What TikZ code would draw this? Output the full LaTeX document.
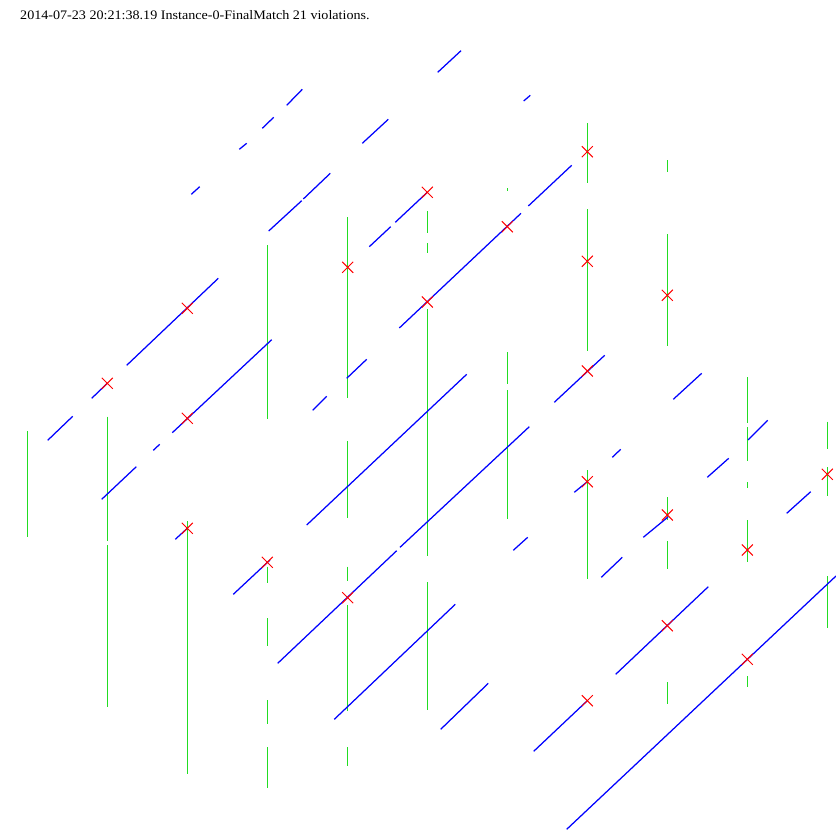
\documentclass[tikz,border=0pt]{standalone}
\usepackage{fontspec}
\setmainfont{Liberation Serif}
\definecolor{vgreen}{RGB}{34,221,34}
\tikzset{
  gline/.style={draw=vgreen,line width=1pt},
  bline/.style={draw=blue,line width=1.25pt},
  xmark/.style={draw=red,line width=1pt},
}
\begin{document}
\begin{tikzpicture}[x=1pt,y=-1pt]
\useasboundingbox (0,0) rectangle (836,830);
\fill[white] (0,0) rectangle (836,830);
\node[anchor=base west,inner sep=0pt,font=\fontsize{13}{15}\selectfont,xscale=1.085,transform shape] (title) at (20,19.3) {2014-07-23 20:21:38.19 Instance-0-FinalMatch 21 violations.};
% green verticals
\foreach \x/\a/\b in {
 27.3/431/536.7,
 107.3/416.7/540.7, 107.3/545/706.7,
 187.3/521/774.3,
 267.3/245/418.7, 267.3/566.7/583.3, 267.3/618.3/646, 267.3/700/723.7, 267.3/747/787.7,
 347.7/217/397.7, 347.7/441/517.7, 347.7/566.7/580.7, 347.7/605/710.7, 347.7/747/766,
 427.3/211/233.3, 427.3/243.3/252.7, 427.3/309.3/555.7, 427.3/582/709.7,
 507.3/188/190.7, 507.3/352.3/383.7, 507.3/390/518.7,
 587.3/123.3/182.7, 587.3/209/350.7, 587.3/470/578.7,
 667.3/160/171.7, 667.3/234/345.7, 667.3/497/520, 667.3/541/568.7, 667.3/682/703.7,
 747.3/377.3/423.3, 747.3/427.3/460.7, 747.3/482/487.7, 747.3/520/561.7, 747.3/676/686.7,
 827.3/421.7/448.7, 827.3/467.3/495.7, 827.3/576/627.7}
 \draw[gline] (\x,\a) -- (\x,\b);
% blue diagonals
\foreach \xa/\ya/\xb/\yb in {
 286.7/105.3/302.3/89.3,
 262.3/128.3/273.7/117.3,
 239.3/149.3/246.7/143.3,
 362.3/143.3/388.3/119.3,
 191.3/194.3/199.7/186.7,
 268.7/231/301.7/200.7,
 303.3/199/330.3/173.3,
 369.3/246.7/390.7/226.7,
 395.3/222.3/427.3/192.3,
 437.7/72.3/461/50.7,
 523.7/101/530.3/95.3,
 399.3/328/521/213.3,
 528.3/206/571.7/165.3,
 126.7/365.3/218.3/278.3,
 91.7/398.3/107.3/383.3,
 47.7/440.3/72.7/416.3,
 101.7/499.3/136.3/466.7,
 153.3/450.3/159.7/444.3,
 172.3/432.7/271.7/339.7,
 312.7/410.3/326.7/396.3,
 346.7/378.3/366.7/359.3,
 306.7/525/466.7/374.3,
 175.3/539.3/187.3/528.3,
 277.7/663.3/396.7/550.7,
 400/547.3/529.3/426.7,
 554.3/402.3/604.7/355.3,
 673.3/399.3/701.7/373.3,
 748/440/767.7/420.3,
 707.3/477.3/728.7/458.3,
 612.3/457.3/620.7/449.3,
 574.3/492.3/587.3/481.7,
 786.7/513.3/810.7/491.7,
 643.3/537.3/668/517,
 513.3/550.3/527.7/537.3,
 601.3/577.3/622.3/557.3,
 233.3/594.3/270/560,
 334.3/719.3/455.3/604.3,
 440.7/729.3/488.3/683.3,
 533.7/751.3/587.3/700.7,
 615.7/674.3/708.3/586.7,
 566.7/829.3/836/576}
 \draw[bline] (\xa,\ya) -- (\xb,\yb);
% red crosses
\foreach \x/\y in {587.3/151.7, 427.3/192.3, 507.3/226.7, 347.7/267.3, 587.3/261.3,
 667.3/295.3, 187.3/308.3, 427.3/302, 107.3/383.3, 587.3/371, 187.3/418.3,
 587.3/481.7, 827.3/474.3, 667.3/515, 187.3/528.3, 747.3/550, 267.3/562.3,
 347.7/597.7, 667.3/625.7, 747.3/659.3, 587.3/700.7}
 \draw[xmark] (\x-5.5,\y-5.5) -- (\x+5.5,\y+5.5) (\x-5.5,\y+5.5) -- (\x+5.5,\y-5.5);
\end{tikzpicture}
\end{document}
